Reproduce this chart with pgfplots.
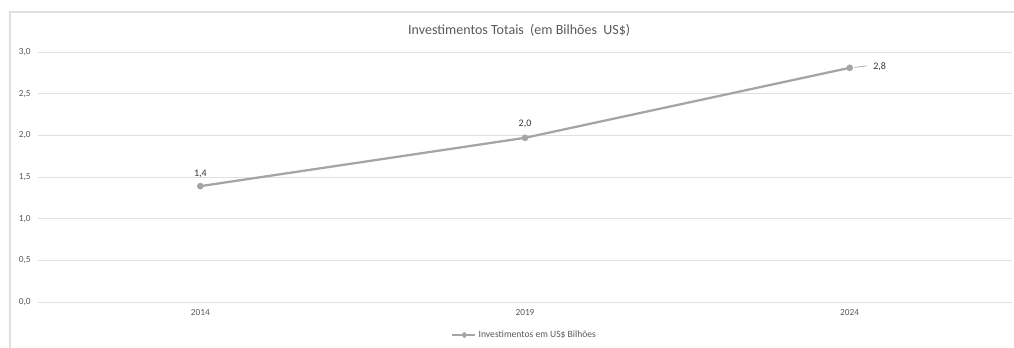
\documentclass[border=0pt]{standalone}
\usepackage{pgfplots}
\pgfplotsset{compat=1.18}
\usepackage{fontspec}
\setmainfont{Carlito}
\definecolor{gridc}{HTML}{E0E0E0}
\definecolor{txt}{HTML}{595959}
\definecolor{ser}{HTML}{A5A5A5}
\begin{document}
\begin{tikzpicture}
\useasboundingbox (0,0) rectangle (760.5pt,261pt);
\draw[gridc, line width=0.8pt] (7.5pt,0) -- (7.5pt,252pt) -- (760.5pt,252pt);
\begin{axis}[
  at={(28.5pt,34.5pt)}, anchor=south west,
  scale only axis, width=730.5pt, height=187.5pt,
  xmin=-0.5, xmax=2.5, ymin=0, ymax=3,
  xtick={0,1,2}, xticklabels={2014,2019,2024},
  ytick={0,0.5,...,3},
  axis line style={draw=none},
  xtick style={draw=none}, ytick style={draw=none},
  xmajorgrids=false, ymajorgrids=true,
  y grid style={gridc, line width=0.6pt},
  yticklabel style={font=\fontsize{7}{8}\selectfont, text=txt, xshift=-2pt},
  xticklabel style={font=\fontsize{7}{8}\selectfont, text=txt, yshift=-2pt},
  /pgf/number format/assume math mode=true,
  /pgf/number format/.cd, use comma, fixed, fixed zerofill, precision=1, /pgfplots/.cd,
  every axis title shift=0pt,
  title={Investimentos Totais~ (em Bilhões~ US\$)},
  title style={font=\fontsize{10.5}{12}\selectfont, text=txt, at={(0.494,1)}, anchor=center, yshift=16pt},
  legend style={draw=none, fill=none, at={(0.5,0)}, anchor=center, yshift=-24.75pt,
    font=\fontsize{7.2}{8}\selectfont, text=txt, inner sep=0pt},
  legend image code/.code={\draw[#1, line width=1.5pt] (0pt,0pt) -- (17pt,0pt); \draw[ser, fill=ser] (9pt,0pt) circle (1.3pt);},
  clip=false,
]
\addplot[ser, line width=1.7pt, mark=*, mark size=1.6pt, mark options={fill=ser, draw=ser},
  nodes near coords={\pgfmathprintnumber[use comma, fixed, fixed zerofill, precision=1]{\pgfplotspointmeta}},
  point meta=y,
  visualization depends on={value \thisrow{dx} \as \dx},
  visualization depends on={value \thisrow{dy} \as \dy},
  every node near coord/.append style={font=\fontsize{7.5}{8}\selectfont, text=black!80, anchor=center, xshift=\dx pt, yshift=\dy pt},
] table[x=x, y=y] {
x y dx dy
0 1.39 0 9
1 1.97 0 10.5
2 2.81 22.5 0.75
};
\addlegendentry{Investimentos em US\$ Bilhões}
\draw[ser, line width=0.5pt] (axis cs:2,2.81) ++(3.5pt,0.3pt) -- ++(9.5pt,1.2pt);
\end{axis}
\end{tikzpicture}
\end{document}
